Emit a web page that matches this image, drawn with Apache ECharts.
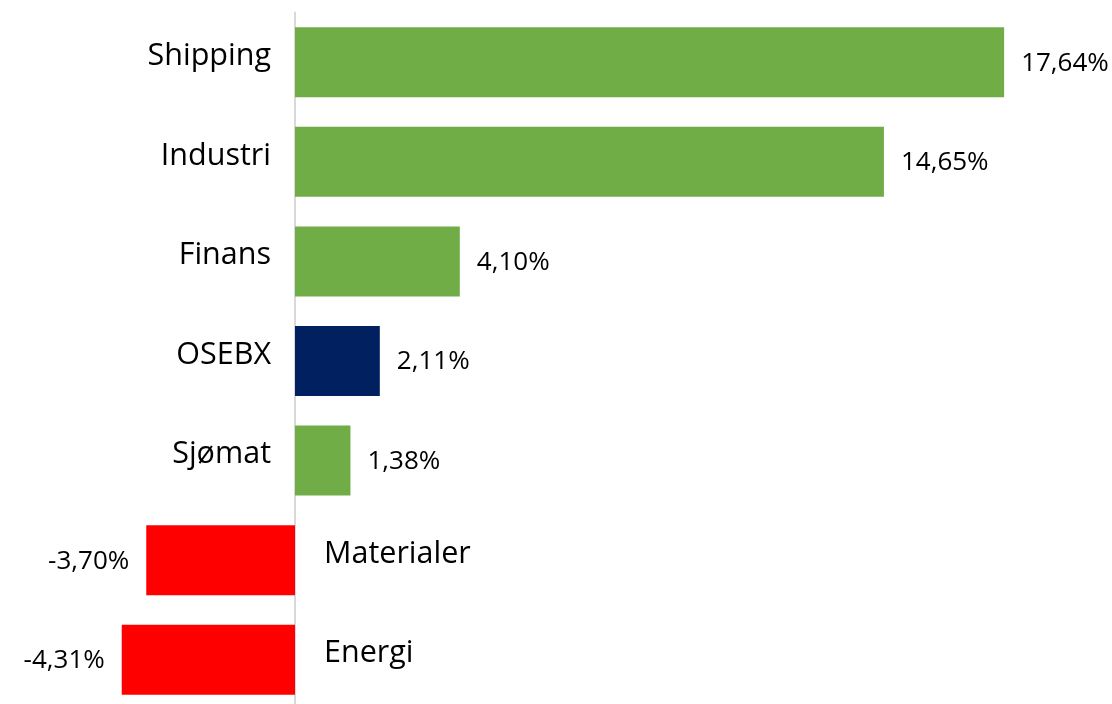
<!DOCTYPE html>
<html>
<head>
<meta charset="utf-8">
<script src="https://cdn.jsdelivr.net/npm/echarts@6/dist/echarts.min.js"></script>
<style>html,body{margin:0;padding:0;background:#fff}#c{width:1112px;height:704px}</style>
</head>
<body>
<div id="c"></div>
<script>
const categories = ["Shipping", "Industri", "Finans", "OSEBX", "Sjømat", "Materialer", "Energi"];
const values = [17.64, 14.65, 4.10, 2.11, 1.38, -3.70, -4.31];
const highlight = "OSEBX";

const GREEN = "#70AD47", NAVY = "#002060", RED = "#FF0000";
const FONT = "'Open Sans', sans-serif";

function fmt(v) { return v.toFixed(2).replace('.', ',') + '%'; }

const barData = values.map((v, i) => ({
  value: v,
  itemStyle: { color: categories[i] === highlight ? NAVY : (v < 0 ? RED : GREEN) },
  label: { position: v < 0 ? 'left' : 'right' }
}));

const nameData = categories.map((c, i) => ({
  value: 0,
  label: {
    position: values[i] < 0 ? 'right' : 'left',
    distance: values[i] < 0 ? 29 : 24
  }
}));

const chart = echarts.init(document.getElementById('c'), null, { renderer: 'canvas' });
chart.setOption({
  animation: false,
  backgroundColor: '#fff',
  grid: { left: 94, width: 1005, top: 12.5, height: 697, containLabel: false, outerBoundsMode: 'none' },
  xAxis: {
    type: 'value', min: -5, max: 20, interval: 5,
    show: false
  },
  yAxis: {
    type: 'category', data: categories, inverse: true,
    axisLine: { show: true, onZero: true, lineStyle: { color: '#d9d9d9', width: 2 } },
    axisTick: { show: false },
    axisLabel: { show: false },
    splitLine: { show: false }
  },
  series: [
    {
      type: 'bar',
      data: barData,
      barWidth: 70,
      z: 2,
      label: {
        show: true,
        distance: 17,
        offset: [0, 1],
        formatter: p => fmt(p.value),
        fontFamily: FONT, fontSize: 26, color: '#000'
      }
    },
    {
      type: 'bar',
      data: nameData,
      barWidth: 70,
      barGap: '-100%',
      itemStyle: { color: 'rgba(0,0,0,0)' },
      z: 3,
      label: {
        show: true,
        formatter: p => categories[p.dataIndex],
        offset: [0, -6],
        fontFamily: FONT, fontSize: 30.5, color: '#000'
      }
    }
  ]
});
</script>
</body>
</html>
